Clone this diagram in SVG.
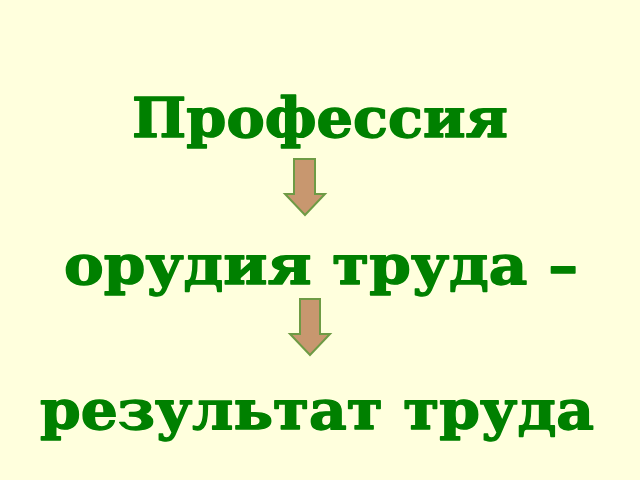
<svg xmlns="http://www.w3.org/2000/svg" width="640" height="480" viewBox="0 0 640 480">
  <style>
    .t { font-family: "DejaVu Serif", "Liberation Serif", serif; font-weight: bold; font-size: 55px; fill: #008000; stroke: #008000; stroke-width: 1.4; stroke-linejoin: round; }
    .arr { fill: #C8976F; stroke: #6E9B45; stroke-width: 2; stroke-linejoin: miter; }
  </style>
  <rect width="640" height="480" fill="#FFFFDD"/>
  <g id="node-profession">
    <text class="t" x="132" y="137" textLength="376" lengthAdjust="spacingAndGlyphs">Профессия</text>
  </g>
  <g id="node-tools">
    <text class="t" x="64" y="284" textLength="514" lengthAdjust="spacingAndGlyphs">орудия труда –</text>
  </g>
  <g id="node-result">
    <text class="t" x="40" y="429" textLength="554" lengthAdjust="spacingAndGlyphs">результат труда</text>
  </g>
  <g id="connectors">
    <polygon class="arr" points="294,159 315,159 315,194 325,194 305,215 285,194 294,194"/>
    <polygon class="arr" points="300,299 320,299 320,334 330,334 310,355 290,334 300,334"/>
  </g>
</svg>
